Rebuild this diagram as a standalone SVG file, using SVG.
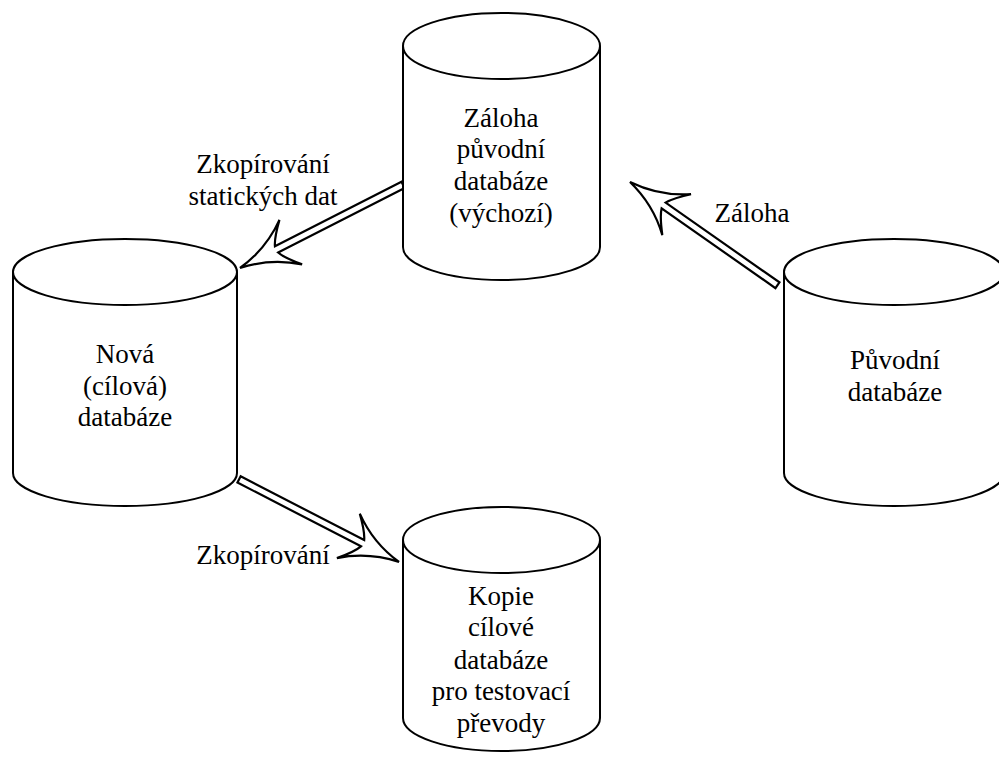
<svg xmlns="http://www.w3.org/2000/svg" width="999" height="764" viewBox="0 0 999 764">
<style>
.cyl{fill:#fff;stroke:#000;stroke-width:2}
.arr{fill:#fff;stroke:#000;stroke-width:2.2;stroke-linejoin:miter}
.t{font-family:'Liberation Serif','DejaVu Serif','Times New Roman',serif;font-size:27px;fill:#000;text-anchor:middle}
</style>
<rect width="999" height="764" fill="#fff"/>
<g id="connectors">
<path class="arr" transform="translate(240,268) rotate(153)" d="M0,0 Q-32,-5 -57,-25 Q-44,-11 -41,-3.5 L-183,-3.5 L-183,3.5 L-41,3.5 Q-44,11 -57,25 Q-32,5 0,0 Z"/>
<path class="arr" transform="translate(630,182) rotate(215)" d="M0,0 Q-32,-5 -57,-25 Q-44,-11 -41,-3.5 L-180,-3.5 L-180,3.5 L-41,3.5 Q-44,11 -57,25 Q-32,5 0,0 Z"/>
<path class="arr" transform="translate(399,562) rotate(27.3)" d="M0,0 Q-32,-5 -57,-25 Q-44,-11 -41,-3.5 L-180,-3.5 L-180,3.5 L-41,3.5 Q-44,11 -57,25 Q-32,5 0,0 Z"/>
</g>
<g id="zaloha-db">
<path class="cyl" d="M403,46 L403,247 A98.5,33 0 0 0 600,247 L600,46"/>
<ellipse class="cyl" cx="501.5" cy="46" rx="98.5" ry="33"/>
<text class="t" x="501" y="127">Záloha</text>
<text class="t" x="501" y="158">původní</text>
<text class="t" x="501" y="190">databáze</text>
<text class="t" x="501" y="222">(výchozí)</text>
</g>
<g id="nova-db">
<path class="cyl" d="M13,272 L13,473 A112,33 0 0 0 237,473 L237,272"/>
<ellipse class="cyl" cx="125" cy="272" rx="112" ry="33"/>
<text class="t" x="125" y="363">Nová</text>
<text class="t" x="125" y="395">(cílová)</text>
<text class="t" x="125" y="426">databáze</text>
</g>
<g id="puvodni-db">
<path class="cyl" d="M784,272 L784,473 A110,33 0 0 0 1004,473 L1004,272"/>
<ellipse class="cyl" cx="894" cy="272" rx="110" ry="33"/>
<text class="t" x="895" y="369">Původní</text>
<text class="t" x="895" y="401">databáze</text>
</g>
<g id="kopie-db">
<path class="cyl" d="M403,540 L403,718 A98.5,33 0 0 0 600,718 L600,540"/>
<ellipse class="cyl" cx="501.5" cy="540" rx="98.5" ry="33"/>
<text class="t" x="501" y="605">Kopie</text>
<text class="t" x="501" y="636">cílové</text>
<text class="t" x="501" y="669">databáze</text>
<text class="t" x="501" y="700">pro testovací</text>
<text class="t" x="501" y="732">převody</text>
</g>
<g id="labels">
<text class="t" x="263" y="173">Zkopírování</text>
<text class="t" x="263" y="205">statických dat</text>
<text class="t" x="752" y="222">Záloha</text>
<text class="t" x="263" y="564">Zkopírování</text>
</g>
</svg>
